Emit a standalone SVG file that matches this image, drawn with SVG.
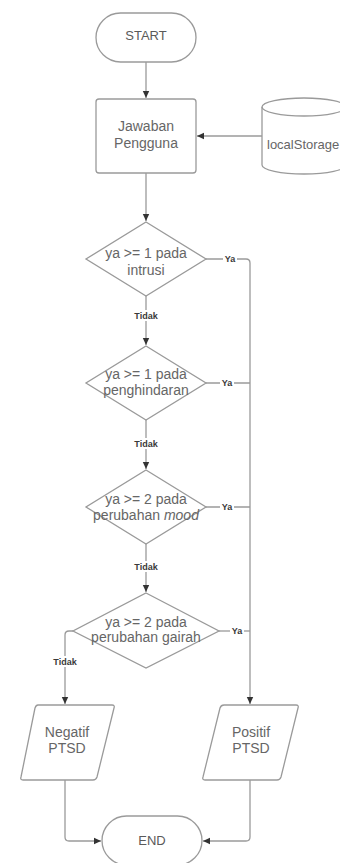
<svg xmlns="http://www.w3.org/2000/svg" width="340" height="863" viewBox="0 0 340 863">
  <style>
    .shape { fill: #ffffff; stroke: #9a9a9a; stroke-width: 1.3; }
    .line { fill: none; stroke: #9a9a9a; stroke-width: 1.3; }
    .txt { font-family: "Liberation Sans", Arial, sans-serif; font-size: 14px; fill: #666666; text-anchor: middle; }
    .term { font-family: "Liberation Sans", Arial, sans-serif; font-size: 13px; fill: #5a5a5a; text-anchor: middle; }
    .lbl { font-family: "Liberation Sans", Arial, sans-serif; font-size: 9px; font-weight: bold; fill: #3a3a3a; text-anchor: middle; }
    .lblbg { fill: #ffffff; }
  </style>
  <defs>
    <marker id="arrow" markerWidth="8" markerHeight="8" refX="7" refY="4" orient="auto" markerUnits="userSpaceOnUse">
      <path d="M0,0.8 L7,4 L0,7.2 Z" fill="#333333"/>
    </marker>
  </defs>
  <rect width="340" height="863" fill="#ffffff"/>

  <!-- connectors -->
  <g id="connectors">
    <path class="line" d="M146,62 V98" marker-end="url(#arrow)"/>
    <path class="line" d="M262,136 H197" marker-end="url(#arrow)"/>
    <path class="line" d="M146,173 V221" marker-end="url(#arrow)"/>
    <!-- Tidak branches -->
    <path class="line" d="M146,296 V345" marker-end="url(#arrow)"/>
    <path class="line" d="M146,420 V469" marker-end="url(#arrow)"/>
    <path class="line" d="M146,544 V592" marker-end="url(#arrow)"/>
    <path class="line" d="M73,631 H69 Q65,631 65,635 V704" marker-end="url(#arrow)"/>
    <!-- Ya branches -->
    <path class="line" d="M206,259 H246 Q250,259 250,263 V704" marker-end="url(#arrow)"/>
    <path class="line" d="M206,383 H250"/>
    <path class="line" d="M206,507 H250"/>
    <path class="line" d="M219,631 H250"/>
    <!-- results to END -->
    <path class="line" d="M65,780 V837 Q65,841 69,841 H101" marker-end="url(#arrow)"/>
    <path class="line" d="M250,780 V837 Q250,841 246,841 H203" marker-end="url(#arrow)"/>

    <!-- labels -->
    <rect class="lblbg" x="133" y="310" width="26" height="11"/>
    <text class="lbl" x="146" y="319">Tidak</text>
    <rect class="lblbg" x="133" y="438" width="26" height="11"/>
    <text class="lbl" x="146" y="447">Tidak</text>
    <rect class="lblbg" x="133" y="561" width="26" height="11"/>
    <text class="lbl" x="146" y="570">Tidak</text>
    <rect class="lblbg" x="52" y="656" width="26" height="11"/>
    <text class="lbl" x="65" y="665">Tidak</text>
    <rect class="lblbg" x="223" y="253" width="14" height="11"/>
    <text class="lbl" x="230" y="262">Ya</text>
    <rect class="lblbg" x="220" y="377" width="14" height="11"/>
    <text class="lbl" x="227" y="386">Ya</text>
    <rect class="lblbg" x="220" y="501" width="14" height="11"/>
    <text class="lbl" x="227" y="510">Ya</text>
    <rect class="lblbg" x="230" y="625" width="14" height="11"/>
    <text class="lbl" x="237" y="634">Ya</text>
  </g>

  <g id="start">
    <rect class="shape" x="96" y="13" width="100" height="49" rx="24.5"/>
    <text class="term" x="146" y="40">START</text>
  </g>

  <g id="jawaban">
    <rect class="shape" x="96" y="99" width="100" height="74" rx="3"/>
    <text class="txt" x="146" y="131">Jawaban</text>
    <text class="txt" x="146" y="148">Pengguna</text>
  </g>

  <g id="localstorage">
    <path class="shape" d="M262,107 A42,9 0 0 1 346,107 V165 A42,9 0 0 1 262,165 Z"/>
    <path class="line" d="M262,107 A42,9 0 0 0 346,107"/>
    <text class="txt" x="267" y="149" style="font-size:13px;text-anchor:start">localStorage</text>
  </g>

  <g id="cek-intrusi">
    <polygon class="shape" points="146,222 206,259 146,296 86,259"/>
    <text class="txt" x="146" y="258">ya &gt;= 1 pada</text>
    <text class="txt" x="146" y="275">intrusi</text>
  </g>

  <g id="cek-penghindaran">
    <polygon class="shape" points="146,346 206,383 146,420 86,383"/>
    <text class="txt" x="146" y="379">ya &gt;= 1 pada</text>
    <text class="txt" x="146" y="395">penghindaran</text>
  </g>

  <g id="cek-mood">
    <polygon class="shape" points="146,470 206,507 146,544 86,507"/>
    <text class="txt" x="146" y="504">ya &gt;= 2 pada</text>
    <text class="txt" x="146" y="520">perubahan <tspan font-style="italic">mood</tspan></text>
  </g>

  <g id="cek-gairah">
    <polygon class="shape" points="146,593 219,631 146,668 73,631"/>
    <text class="txt" x="146" y="627">ya &gt;= 2 pada</text>
    <text class="txt" x="146" y="642">perubahan gairah</text>
  </g>

  <g id="negatif">
    <path class="shape" d="M38,705 H112 Q115,705 114,708 L97,777 Q96,780 93,780 H23 Q20,780 21,777 L35,708 Q36,705 38,705 Z"/>
    <text class="txt" x="67" y="737">Negatif</text>
    <text class="txt" x="67" y="753">PTSD</text>
  </g>

  <g id="positif">
    <path class="shape" d="M224,705 H296 Q299,705 298,708 L281,777 Q280,780 277,780 H205 Q202,780 203,777 L220,708 Q221,705 224,705 Z"/>
    <text class="txt" x="251" y="737">Positif</text>
    <text class="txt" x="251" y="753">PTSD</text>
  </g>

  <g id="end">
    <rect class="shape" x="102" y="816" width="100" height="49" rx="24.5"/>
    <text class="term" x="152" y="845">END</text>
  </g>
</svg>
